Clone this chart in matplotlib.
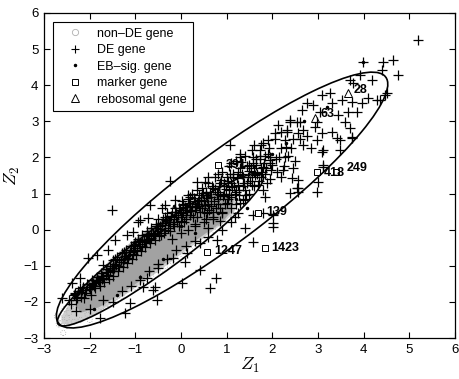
"""
Z1 vs Z2 scatter of genes, with DE / EB-significant / marker / ribosomal
genes highlighted and two confidence ellipses.

Writes out.png (459 x 379 px).
"""

import matplotlib
matplotlib.use("Agg")
import matplotlib.pyplot as plt
from matplotlib.lines import Line2D
from matplotlib.patches import Ellipse

# ============================== DATA ===================================

# dense cloud of non-DE genes (outline of the shaded region)
CLOUD_X = [-2.62, -2.40, -2.10, -1.80, -1.50, -1.20, -0.90, -0.60, -0.30, 0.00,
           0.30, 0.60, 0.90, 1.15, 1.25, 1.10, 0.80, 0.50, 0.20, -0.10,
           -0.40, -0.70, -1.00, -1.30, -1.60, -1.90, -2.20, -2.45, -2.62]
CLOUD_Y = [-2.62, -2.62, -2.50, -2.28, -2.02, -1.78, -1.52, -1.25, -0.97, -0.68,
           -0.40, -0.12, 0.15, 0.45, 0.75, 1.00, 1.05, 0.90, 0.75, 0.55,
           0.30, 0.05, -0.25, -0.55, -0.90, -1.25, -1.65, -2.05, -2.40]
CORE_X = [-2.20, -1.80, -1.50, -1.20, -0.90, -0.60, -0.30, 0.00, 0.30, 0.60,
          0.90, 1.10, 1.15, 1.00, 0.70, 0.40, 0.10, -0.20, -0.50, -0.80,
          -1.10, -1.40, -1.70, -2.00, -2.20, -2.30]
CORE_Y = [-2.30, -2.15, -1.92, -1.68, -1.42, -1.15, -0.88, -0.60, -0.32, -0.05,
          0.20, 0.50, 0.80, 0.98, 0.98, 0.82, 0.65, 0.42, 0.18, -0.08,
          -0.38, -0.70, -1.05, -1.45, -1.80, -2.10]

# individual non-DE genes on the fringe of the cloud
NONDE_X = [-2.58, -2.65, -2.55, -2.50, -2.35, -2.20, -2.05, -1.90, -1.75, -1.60,
           -1.45, -1.30, -1.15, -1.00, -0.85, -0.70, -0.55, -0.40, -0.25, -0.10,
           0.05, 0.20, 0.35, 0.50, 0.65, 0.80, 0.95, 1.10, -2.45, -2.30,
           -2.10, -2.50, -2.00, -2.72, -2.68, -2.40, -2.25, -1.95]
NONDE_Y = [-2.86, -2.45, -2.20, -2.65, -2.55, -2.50, -2.35, -2.30, -2.15, -2.05,
           -1.90, -1.85, -1.65, -1.60, -1.50, -1.40, -1.25, -1.10, -1.00, -0.85,
           -0.70, -0.55, -0.40, -0.30, -0.10, 0.05, 0.20, 0.45, -2.30, -2.15,
           -2.05, -2.45, -2.50, -2.40, -2.62, -1.95, -1.80, -1.60]

DE_X = [5.19, 3.98, 4.42, 4.64, 4.75, 4.47, 4.29, 4.40, 3.92, 4.18,
        3.77, 3.70, 4.51, 4.36, 4.09, 3.96, 3.74, 3.52, 3.30, 3.26,
        3.09, 2.89, 2.76, 2.65, 3.04, 3.44, 3.59, 3.85, 3.66, 3.70,
        3.42, 3.74, 3.09, 3.30, 2.93, 2.98, 2.56, 2.60, 2.39, 2.32,
        2.28, 2.67, 2.98, 3.11, 3.48, 3.11, 3.48, 3.09, 3.74, 3.11,
        2.43, 3.00, 2.56,
        # right of the band, below it
        2.56, 2.98, 2.01, 2.01, 1.58, 1.80, 1.40, 1.18, 1.58, 2.01,
        0.42, 0.77, 0.63, 0.02, 0.09, -0.57, -0.53, -1.23, -1.77, -1.12,
        -0.61, -0.83, 0.42, 0.79, 0.13, -0.18, -0.50, -0.74,
        # left of the band, above it
        -1.51, -2.61, -2.39, -2.21, -1.84, -2.04, -1.45, -1.05, -0.68, -0.35,
        -0.94, -1.18, -1.71, -2.17, -2.32, -1.60, -0.24, -0.42, -0.13, 0.35,
        -0.90, -0.72, 1.07, 0.53, 1.29, 1.58, 1.73, 1.90, 2.06, 2.12,
        2.39, 2.54, 2.67, 2.32, 1.95, 1.80, 2.23, 2.56, 2.39, 1.84,
        2.54, 0.04, 0.20, 1.36,
        # dense band along the top of the cloud
        -2.45, -2.35, -2.30, -2.25, -2.20, -2.15, -2.10, -2.05, -2.00, -1.95,
        -1.90, -1.85, -1.80, -1.75, -1.70, -1.65, -1.60, -1.55, -1.50, -1.50,
        -1.45, -1.40, -1.35, -1.30, -1.25, -1.20, -1.15, -1.10, -1.05, -1.00,
        -1.00, -0.95, -0.90, -0.85, -0.80, -0.75, -0.70, -0.65, -0.60, -0.55,
        -0.50, -0.50, -0.45, -0.40, -0.35, -0.30, -0.25, -0.20, -0.15, -0.10,
        -0.05, 0.00, 0.00, 0.05, 0.10, 0.10, 0.15, 0.20, 0.20, 0.25,
        0.30, 0.30, 0.35, 0.40, 0.40, 0.45, 0.50, 0.50, 0.55, 0.55,
        0.60, 0.60, 0.65, 0.70, 0.70, 0.75, 0.80, 0.80, 0.85, 0.85,
        0.90, 0.95, 0.95, 1.00, 1.00, 1.05, 1.05, 1.10, 1.10, 1.15,
        1.20, 1.20, 1.25, 1.30, 1.30, 1.35, 1.40, 1.40, 1.45, 1.50,
        1.50, 1.55, 1.55, 1.60, 1.60, 1.65, 1.70, 1.75, 1.75, 1.80,
        1.85, 1.90, 1.95, 2.00, 2.05, 2.10, 2.15, 2.20, 2.25, 2.30,
        2.35, 2.45, 2.50,
        -2.40, -2.28, -2.18, -2.12, -2.02, -1.98, -1.92, -1.88, -1.82, -1.78,
        -1.72, -1.68, -1.62, -1.58, -1.52, -1.48, -1.42, -1.38, -1.32, -1.28,
        -1.22, -1.18, -1.12, -1.08, -1.02, -0.98, -0.92, -0.88, -0.82, -0.78,
        -0.72, -0.68, -0.62, -0.58, -0.52, -0.48, -0.42, -0.38, -0.32, -0.28,
        -0.22, -0.18, -0.12, -0.08, -0.02, 0.02, 0.08, 0.12, 0.18, 0.22,
        0.28, 0.32, 0.38, 0.42, 0.48, 0.52, 0.58, 0.62, 0.68, 0.72,
        0.78, 0.82, 0.88, 0.92, 0.98, 1.02, 1.08, 1.12, 1.18, 1.22,
        1.28, 1.32, 1.38, 1.42, 1.48, 1.52, 1.58, 1.62, 1.68, 1.72,
        1.78, 1.82, 1.88, 1.92, 1.98, 2.08, 2.18, 2.28, 2.40, 2.60,
        2.75, 2.85, 2.20, 2.45,
        -2.33, -2.22, -2.08, -1.95, -1.86, -1.74, -1.64, -1.56,
        -1.46, -1.36, -1.26, -1.16, -1.06, -1.44, -1.24, -1.04,
        -0.96, -0.86, -0.76, -0.66, -0.56, -0.94, -0.74, -0.54,
        -0.46, -0.36, -0.26, -0.16, -0.06, -0.44, -0.24, -0.04, -0.34, -0.14,
        0.04, 0.14, 0.24, 0.34, 0.44, 0.06, 0.26, 0.46, 0.16, 0.36, 0.02, 0.30,
        0.54, 0.64, 0.74, 0.84, 0.94, 0.56, 0.66, 0.76, 0.86, 0.96, 0.60, 0.80,
        0.70, 0.90,
        1.04, 1.14, 1.24, 1.34, 1.44, 1.06, 1.16, 1.26, 1.36, 1.46, 1.10, 1.30,
        1.20, 1.40,
        1.54, 1.64, 1.74, 1.84, 1.94, 1.56, 1.66, 1.76, 1.86, 1.96, 1.60, 1.80,
        # inside the upper part of the cloud
        0.30, 0.50, 0.70, 0.90, 1.10, 0.00, -0.20, 0.15, 0.60, 0.85,
        # along the lower edge of the cloud
        -2.30, -2.00, -1.70, -1.50, -1.30, -1.10, -0.90, -0.70, -0.50, -0.30,
        -0.10, 0.10, 0.30, 0.60, 0.90, 1.10, 1.25]
DE_Y = [5.25, 4.64, 4.64, 4.70, 4.28, 3.73, 3.60, 4.42, 4.28, 4.14,
        4.06, 4.14, 3.78, 3.59, 3.65, 3.51, 3.53, 3.59, 3.51, 3.78,
        3.73, 3.45, 3.51, 3.31, 3.26, 3.17, 2.98, 3.26, 3.26, 2.81,
        2.54, 2.54, 2.68, 2.70, 2.84, 2.98, 2.68, 2.98, 2.98, 2.76,
        2.48, 2.34, 2.48, 2.20, 2.20, 1.79, 2.48, 2.15, 2.57, 1.73,
        1.43, 1.32, 1.15,
        1.04, 1.04, 0.40, 0.07, -0.34, 0.46, 0.04, 0.35, 0.40, 0.18,
        -1.12, -1.34, -1.62, -1.48, -0.90, -1.59, -1.95, -2.31, -2.45, -2.03,
        -1.67, -1.59, -0.37, -0.29, -0.65, -0.79, -1.06, -1.34,
        0.55, -1.90, -1.48, -1.34, -0.70, -0.79, -0.29, -0.07, 0.68, 0.68,
        0.21, -0.15, -0.98, -1.67, -1.76, -0.57, 1.35, 0.60, 0.82, 1.32,
        0.26, 0.32, 2.34, 1.32, 2.01, 2.01, 2.20, 2.48, 2.68, 2.90,
        3.04, 2.98, 2.76, 2.70, 1.93, 1.73, 1.65, 1.37, 1.01, 0.90,
        1.15, 0.68, 0.90, 0.82,
        -1.95, -1.80, -1.95, -1.70, -1.85, -1.60, -1.75, -1.50, -1.65, -1.40,
        -1.55, -1.30, -1.45, -1.20, -1.35, -1.10, -1.25, -1.00, -1.15, -0.85,
        -0.95, -0.75, -0.90, -0.65, -0.80, -0.55, -0.70, -0.45, -0.60, -0.35,
        -0.50, -0.25, -0.45, -0.15, -0.35, -0.05, -0.25, 0.05, -0.15, 0.15,
        -0.05, 0.30, 0.10, 0.30, 0.00, 0.45, 0.20, 0.50, 0.10, 0.35,
        0.60, 0.25, 0.45, 0.70, 0.30, 0.50, 0.85, 0.40, 0.65, 1.00,
        0.55, 0.80, 0.35, 0.95, 0.65, 1.15, 0.50, 0.80, 1.05, 0.30,
        1.30, 0.70, 0.90, 1.15, 0.50, 1.45, 0.85, 1.05, 1.30, 0.60,
        1.60, 1.00, 1.20, 0.75, 1.45, 1.75, 1.10, 1.30, 0.90, 1.55,
        1.90, 1.05, 1.25, 1.70, 0.75, 1.45, 2.05, 1.10, 1.30, 1.80,
        1.00, 2.20, 1.45, 1.60, 1.20, 1.95, 1.35, 2.35, 1.70, 1.10,
        1.55, 2.10, 1.40, 1.80, 2.50, 1.60, 2.00, 2.70, 1.75, 2.30,
        2.05, 2.50, 1.90,
        -2.05, -1.88, -1.72, -1.90, -1.58, -1.80, -1.48, -1.62, -1.38, -1.55,
        -1.28, -1.45, -1.18, -1.36, -1.05, -1.28, -0.98, -1.15, -0.85, -1.02,
        -0.72, -0.92, -0.62, -0.82, -0.55, -0.70, -0.40, -0.60, -0.28, -0.48,
        -0.18, -0.38, -0.08, -0.28, 0.05, -0.18, 0.18, -0.08, 0.28, 0.05,
        0.38, 0.15, 0.48, 0.22, 0.55, 0.35, 0.62, 0.40, 0.75, 0.52,
        0.88, 0.62, 0.78, 0.48, 1.02, 0.68, 0.88, 0.55, 1.22, 0.80,
        1.00, 0.70, 1.38, 0.92, 1.12, 0.85, 1.55, 1.18, 0.98, 1.42,
        1.10, 1.88, 1.30, 0.95, 1.62, 1.35, 1.85, 1.50, 1.25, 2.05,
        1.60, 1.85, 1.30, 2.25, 1.65, 1.95, 2.25, 2.00, 2.25, 2.50,
        2.60, 2.25, 1.45, 1.70,
        -1.78, -1.62, -1.68, -1.52, -1.42, -1.37, -1.25, -1.12,
        -1.05, -1.00, -0.90, -0.78, -0.68, -0.82, -0.62, -0.42,
        -0.55, -0.45, -0.32, -0.22, -0.12, -0.32, -0.12, 0.10,
        0.02, 0.12, 0.22, 0.30, 0.40, -0.15, -0.05, 0.10, 0.35, 0.60,
        0.50, 0.55, 0.62, 0.72, 0.82, 0.20, 0.35, 0.60, 0.95, 1.10, 0.80, 0.15,
        0.95, 1.05, 1.12, 1.20, 1.30, 0.45, 0.65, 0.60, 0.95, 0.72, 1.45, 1.55,
        0.35, 0.50,
        1.35, 1.45, 1.60, 1.55, 1.75, 0.95, 1.20, 0.95, 1.20, 1.45, 1.85, 2.10,
        0.70, 0.85,
        1.70, 1.80, 1.95, 2.05, 2.00, 1.25, 1.55, 1.45, 1.70, 1.85, 2.35, 2.40,
        0.10, 0.20, 0.30, 0.45, 0.60, -0.10, -0.25, 0.00, 0.05, 0.25,
        -2.25, -2.20, -1.95, -2.00, -1.70, -1.55, -1.40, -1.15, -0.95, -0.80,
        -0.55, -0.45, -0.30, -0.20, 0.00, 0.20, 0.45]

EB_X = [3.98, -0.30, 0.20, 0.60, 1.00, 1.30, -1.00, -1.50, -2.00, 0.80,
        1.20, -0.60, 0.00, 1.60, 2.00, -1.90, -1.40, -0.90, -0.40, 0.30,
        2.30, 2.70, 3.20, 0.45, -0.15, 1.45, -2.30, -1.20]
EB_Y = [4.64, 0.20, 0.55, 0.95, 1.20, 1.50, -0.40, -1.00, -1.55, 0.45,
        0.85, -0.10, 0.10, 1.75, 2.10, -2.20, -1.80, -1.30, -0.80, -0.10,
        2.40, 3.00, 3.40, 1.00, 0.65, 0.60, -1.85, -0.75]

MARKER_X = [1.69, 1.84, 0.57, 2.98, 3.40, 0.82]
MARKER_Y = [0.46, -0.51, -0.62, 1.60, 1.60, 1.80]
MARKER_LABELS = ["139", "1423", "1247", "418", "249", "391"]
MARKER_LABEL_X = [1.86, 1.98, 0.72, 3.12, 3.62, 0.98]
MARKER_LABEL_Y = [0.50, -0.50, -0.58, 1.56, 1.70, 1.80]

RIBO_X = [3.66, 2.93]
RIBO_Y = [3.78, 3.09]
RIBO_LABELS = ["28", "63"]
RIBO_LABEL_X = [3.78, 3.06]
RIBO_LABEL_Y = [3.87, 3.20]

LEGEND_LABELS = ["non\u2013DE gene", "DE gene", "EB\u2013sig. gene",
                 "marker gene", "rebosomal gene"]

# confidence ellipses: (centre x, centre y, semi-major, semi-minor, angle)
ELLIPSES = [(0.90, 0.82, 4.95, 1.10, 44.2),
            (-0.45, -0.55, 3.05, 0.52, 43.0)]

XLIM = (-3, 6)
YLIM = (-3, 6)

# =======================================================================


def main():
    plt.rcParams["font.family"] = ["Liberation Sans", "DejaVu Sans"]
    plt.rcParams["mathtext.fontset"] = "cm"

    fig = plt.figure(figsize=(4.59, 3.79), dpi=100)
    ax = fig.add_axes([0.096, 0.108, 0.895, 0.858])

    ax.fill(CLOUD_X, CLOUD_Y, color="#cfcfcf", lw=0, zorder=1)
    ax.fill(CORE_X, CORE_Y, color="#a2a2a2", lw=0, zorder=1)
    ax.scatter(NONDE_X, NONDE_Y, s=14, marker="o", facecolors="none",
               edgecolors="#a8a8a8", linewidths=0.6, linestyle=":", zorder=2)

    ax.plot(DE_X, DE_Y, ls="none", marker="+", ms=6.5, mew=0.9,
            color="black", zorder=3)
    ax.plot(EB_X, EB_Y, ls="none", marker=".", ms=3, color="black", zorder=3)

    ax.plot(MARKER_X, MARKER_Y, ls="none", marker="s", ms=4.5, mfc="white",
            mec="black", mew=0.7, zorder=4)
    ax.plot(RIBO_X, RIBO_Y, ls="none", marker="^", ms=6, mfc="none",
            mec="black", mew=0.7, zorder=4)

    for lab, x, y in zip(MARKER_LABELS, MARKER_LABEL_X, MARKER_LABEL_Y):
        ax.text(x, y, lab, fontsize=9, fontweight="bold", va="center",
                ha="left", zorder=5)
    for lab, x, y in zip(RIBO_LABELS, RIBO_LABEL_X, RIBO_LABEL_Y):
        ax.text(x, y, lab, fontsize=9, fontweight="bold", va="center",
                ha="left", zorder=5)

    for cx, cy, a, b, ang in ELLIPSES:
        ax.add_patch(Ellipse((cx, cy), 2 * a, 2 * b, angle=ang, fill=False,
                             lw=1.2, ec="black", zorder=4))

    ax.set_xlim(*XLIM)
    ax.set_ylim(*YLIM)
    ax.set_xticks(range(XLIM[0], XLIM[1] + 1))
    ax.set_yticks(range(YLIM[0], YLIM[1] + 1))
    ax.tick_params(direction="in", length=4, width=0.8, top=True, right=True,
                   labelsize=9.5, pad=4)
    for sp in ax.spines.values():
        sp.set_linewidth(0.9)

    ax.set_xlabel(r"$Z_1$", fontsize=13, labelpad=0)
    ax.set_ylabel(r"$Z_2$", fontsize=13, labelpad=1)

    handles = [
        Line2D([], [], ls="none", marker="o", ms=4.5, mfc="none",
               mec="#b0b0b0", mew=0.6),
        Line2D([], [], ls="none", marker="+", ms=6, mew=0.8, color="black"),
        Line2D([], [], ls="none", marker=".", ms=3, color="black"),
        Line2D([], [], ls="none", marker="s", ms=4.5, mfc="none",
               mec="black", mew=0.7),
        Line2D([], [], ls="none", marker="^", ms=6, mfc="none",
               mec="black", mew=0.7),
    ]
    leg = ax.legend(handles, LEGEND_LABELS, loc="upper left",
                    bbox_to_anchor=(0.022, 0.972), fontsize=9,
                    frameon=True, fancybox=False, edgecolor="black",
                    framealpha=1, borderpad=0.45, labelspacing=0.36,
                    handletextpad=0.5, handlelength=2.6, borderaxespad=0)
    leg.get_frame().set_linewidth(0.8)
    leg.set_zorder(6)

    fig.savefig("out.png", dpi=100)


if __name__ == "__main__":
    main()
